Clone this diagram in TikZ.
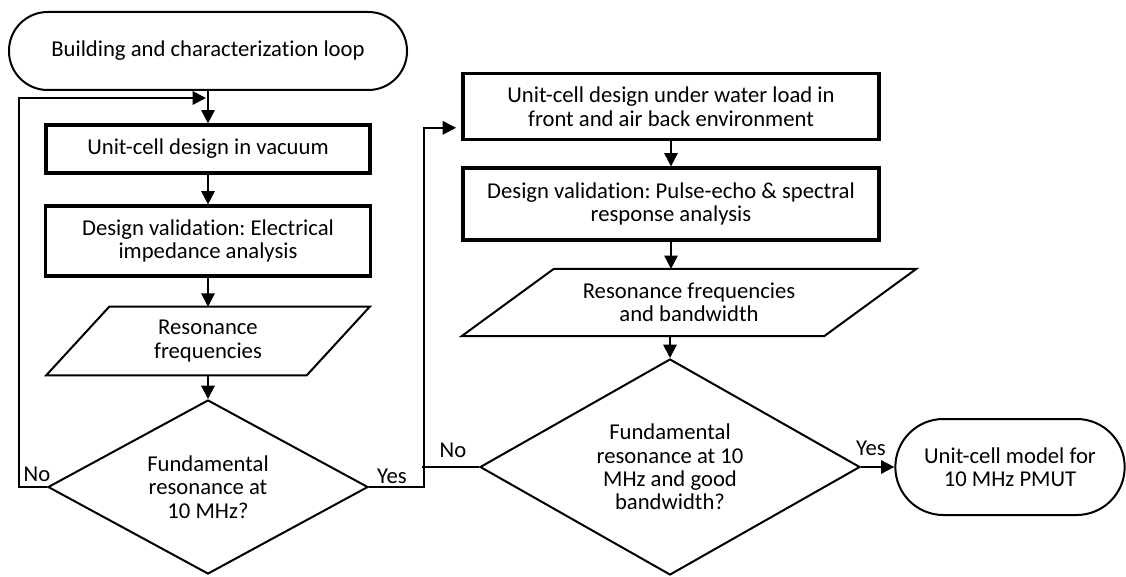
\documentclass[tikz,border=0pt]{standalone}
\usepackage{fontspec}
\setmainfont{Carlito}[Ligatures=NoCommon]
\frenchspacing
\usetikzlibrary{shapes.geometric,arrows.meta}
\tikzset{
  every node/.style={font=\fontsize{17}{17.6}\selectfont},
  termbox/.style={draw, line width=1.5pt, align=center, inner sep=0pt},
  procbox/.style={draw, line width=2.4pt, align=center, inner sep=0pt},
  iobox/.style={align=center, inner sep=0pt},
  iolines/.style={line width=1.5pt},
  decbox/.style={draw, diamond, line width=1.5pt, align=center, inner sep=0pt},
  arr/.style={line width=1.5pt, -{Triangle[length=10pt,width=10pt]}},
  link/.style={line width=1.5pt},
  lbl/.style={inner sep=0pt}
}
\begin{document}
\begin{tikzpicture}[x=0.75pt,y=-0.75pt]
  \useasboundingbox (0,0) rectangle (1126,577);
  \node[termbox, minimum width=298.5pt, minimum height=58.5pt, rounded corners=29pt] (start) at (208,51) {Building and characterization loop};
  \node[procbox, minimum width=243pt, minimum height=36pt] (vac) at (208,149) {Unit-cell design in vacuum};
  \node[procbox, minimum width=244pt, minimum height=52.5pt] (elec) at (208,241) {Design validation: Electrical\\impedance analysis};
  \node[iobox, minimum width=195pt, minimum height=51pt] (res1) at (208,341) {Resonance\\frequencies};
  \draw[iolines] ([xshift=23.6pt]res1.north west) -- ([xshift=23.6pt]res1.north east)
    -- ([xshift=-23.6pt]res1.south east) -- ([xshift=-23.6pt]res1.south west) -- cycle;
  \node[decbox, aspect=1.84, minimum width=240pt, minimum height=130.5pt] (dia1) at (208,487) {Fundamental\\resonance at\\10 MHz?};
  \node[procbox, minimum width=312pt, minimum height=50pt] (water) at (671,106.5) {Unit-cell design under water load in\\front and air back environment};
  \node[procbox, minimum width=312pt, minimum height=54pt] (pulse) at (671,204) {Design validation: Pulse-echo \& spectral\\response analysis};
  \node[iobox, minimum width=271.5pt, minimum height=50pt] (res2) at (689,302.5) {Resonance frequencies\\and bandwidth};
  \draw[iolines] ([xshift=34.5pt]res2.north west) -- ([xshift=34.5pt]res2.north east)
    -- ([xshift=-34.5pt]res2.south east) -- ([xshift=-34.5pt]res2.south west) -- cycle;
  \node[decbox, aspect=1.76, minimum width=285pt, minimum height=162pt] (dia2) at (670,467) {Fundamental\\resonance at 10\\MHz and good\\bandwidth?};
  \node[termbox, minimum width=172pt, minimum height=72pt, rounded corners=36pt] (stop) at (1010,467) {Unit-cell model for\\10 MHz PMUT};
  \node[lbl] (no1) at (37,474) {No};
  \node[lbl] (yes1) at (392,476) {Yes};
  \node[lbl] (no2) at (453,450) {No};
  \node[lbl] (yes2) at (871,448) {Yes};
  \coordinate (loopin) at (206,98);
  \coordinate (waterin) at ([xshift=-4pt,yshift=-16pt]water.west);
  \draw[arr] (start) -- (vac);
  \draw[arr] (vac) -- (elec);
  \draw[arr] (elec) -- (res1);
  \draw[arr] (res1) -- (dia1);
  \draw[arr] (dia1.west) -- ++(-28,0) |- (loopin);
  \draw[arr] (dia1.east) -- ++(55,0) |- (waterin);
  \draw[arr] (water) -- (pulse);
  \draw[arr] (pulse.south) -- (pulse.south |- res2.north);
  \draw[arr] (res2.south -| dia2.north) -- (dia2.north);
  \draw[link] (dia2.west) -- ++(-57,0);
  \draw[arr] (dia2.east) -- (stop.west);
\end{tikzpicture}
\end{document}
